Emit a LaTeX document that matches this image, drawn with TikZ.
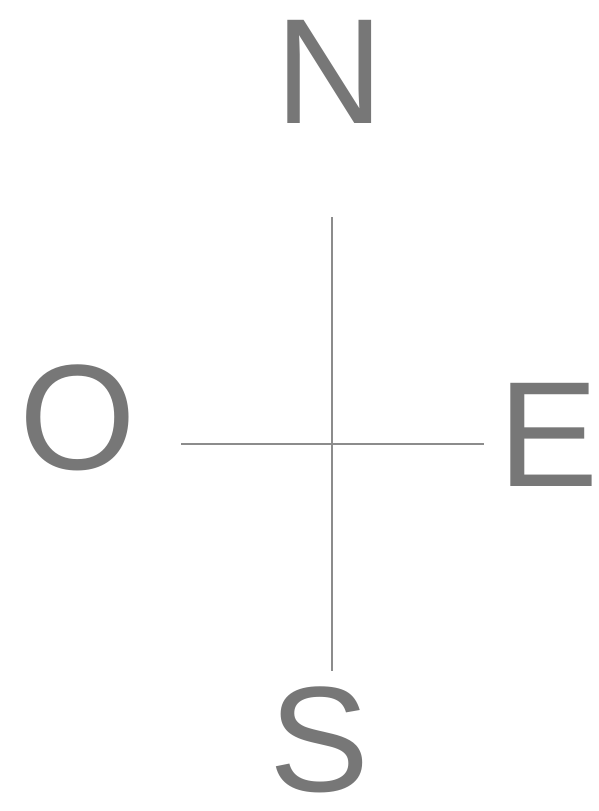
\documentclass[tikz,border=0pt]{standalone}
\usepackage{fontspec}
\setmainfont{Liberation Sans}
\usepackage{xcolor}
\usetikzlibrary{positioning}

\definecolor{lettergray}{HTML}{777777}
\definecolor{linegray}{HTML}{8C8C8C}

\begin{document}
\begin{tikzpicture}[
    x=1pt, y=-1pt,
    letter/.style={
        inner sep=0pt,
        text=lettergray,
        font=\fontsize{150}{150}\selectfont
    },
    axis/.style={draw=linegray, line width=1.4pt}
]
\useasboundingbox (0,0) rectangle (599,811);

\node[letter] (north) at (330,72) {N};
\node[letter] (west) at (78,418) {O};
\node[letter] (east) at (549,435) {E};
\node[letter] (south) at (320,740) {S};

\coordinate (top) at (332,217);
\coordinate (bottom) at (332,671);
\coordinate (left) at (181,444);
\coordinate (right) at (484,444);

\draw[axis] (top) -- (bottom);
\draw[axis] (left) -- (right);
\end{tikzpicture}
\end{document}
